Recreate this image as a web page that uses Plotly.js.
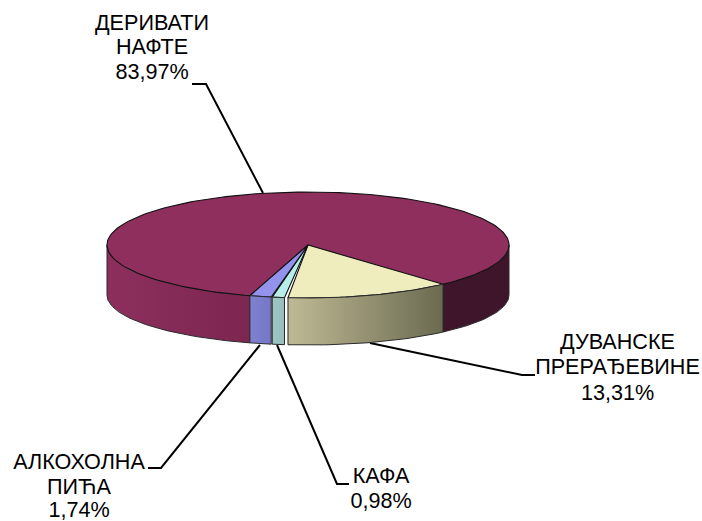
<!DOCTYPE html>
<html><head><meta charset="utf-8">
<script src="https://cdn.plot.ly/plotly-3.0.1.min.js"></script>
<style>html,body{margin:0;padding:0;background:#fff}#c{width:702px;height:521px}</style>
</head><body><div id="c"></div>
<script>
// Data
const categories = ['ДЕРИВАТИ НАФТЕ','ДУВАНСКЕ ПРЕРАЂЕВИНЕ','КАФА','АЛКОХОЛНА ПИЋА'];
const values = [83.97, 13.31, 0.98, 1.74];
const valueLabels = ['83,97%','13,31%','0,98%','1,74%'];
const topColors = ['#8e2f5d','#efedbd','#b6efea','#9393ee'];
const wallFrontColors = [['#8d2f5d','#7c2650'],['#bfba95','#6b6a50'],['#9cc6c4','#96bebd'],['#8080d0','#7777c8']];
const wallBackColor = '#3f152b';

// Projection of the pie (pixels on hidden axes)
const cx=308, cy=245, rx=201, ry=53, by=295, bry=50;
const startAngle=47.8, gaps=[0,0,1.0,0.3];
const rad=d=>d*Math.PI/180;
function arc(a0,a1,cyy,ryy){const n=Math.max(2,Math.ceil(Math.abs(a1-a0)/1.5));const xs=[],ys=[];
  for(let i=0;i<=n;i++){const t=rad(a0+(a1-a0)*i/n);xs.push(cx+rx*Math.cos(t));ys.push(cyy+ryy*Math.sin(t));}return [xs,ys];}
function topFace(a0,a1,col){const [x,y]=arc(a0,a1,cy,ry);
  return {type:'scatter',mode:'lines',x:[cx,...x,cx],y:[cy,...y,cy],fill:'toself',fillcolor:col,line:{color:'#111',width:1.1},hoverinfo:'skip'};}
function wall(a0,a1,cols){const [x1,y1]=arc(a0,a1,cy,ry);const [x2,y2]=arc(a1,a0,by,bry);
  const t={type:'scatter',mode:'lines',x:[...x1,...x2,x1[0]],y:[...y1,...y2,y1[0]],fill:'toself',line:{color:'#2a2a2a',width:1},hoverinfo:'skip'};
  if(Array.isArray(cols)) t.fillgradient={type:'horizontal',colorscale:[[0,cols[0]],[1,cols[1]]]}; else t.fillcolor=cols;
  return t;}

// Slice angles: clockwise from startAngle; order tobacco, coffee, alcohol, oil
const total=values.reduce((a,b)=>a+b,0);
const order=[1,2,3,0]; let ang=startAngle; const spans={};
order.forEach(i=>{ang+=gaps[i];const d=values[i]/total*360;spans[i]=[ang,ang+d];ang+=d;});

// Leader lines and labels
const leaders=[
  [[192,206,263],[84,84,193]],
  [[535,522,370],[375,375,343]],
  [[349,337,277],[484,484,345]],
  [[148,161,260],[468,468,345]]
];
const traces=[];
leaders.forEach(l=>traces.push({type:'scatter',mode:'lines',x:l[0],y:l[1],line:{color:'#000',width:2},hoverinfo:'skip'}));
// oil: back-right dark wall and front-left wall, then its top
traces.push(wall(0,startAngle,wallBackColor));
traces.push(wall(spans[0][0],180,[wallFrontColors[0][0],wallFrontColors[0][1]]));
traces.push(topFace(spans[0][0],spans[0][1],topColors[0]));
[1,2,3].forEach(i=>{
  traces.push(topFace(spans[i][0],spans[i][1],topColors[i]));
  traces.push(wall(spans[i][0],spans[i][1],[wallFrontColors[i][0],wallFrontColors[i][1]]));
});

const labelLines=[
  {x:152,ys:[25,49,74],t:['ДЕРИВАТИ','НАФТЕ',valueLabels[0]]},
  {x:617.5,ys:[344,369,395],t:['ДУВАНСКЕ','ПРЕРАЂЕВИНЕ',valueLabels[1]]},
  {x:381,ys:[478,503],t:['КАФА',valueLabels[2]]},
  {x:79,ys:[464,488.5,512],t:['АЛКОХОЛНА','ПИЋА',valueLabels[3]]}
];
labelLines.forEach(l=>traces.push({type:'scatter',mode:'text',x:l.t.map(()=>l.x),y:l.ys,text:l.t,textposition:'middle center',cliponaxis:false,hoverinfo:'skip',
  textfont:{family:'"Liberation Sans",Arial,sans-serif',size:21.6,color:'#000'}}));

Plotly.newPlot('c',traces,{
  width:702,height:521,margin:{l:0,r:0,t:0,b:0},paper_bgcolor:'#fff',plot_bgcolor:'#fff',showlegend:false,
  xaxis:{range:[0,702],visible:false,fixedrange:true},
  yaxis:{range:[521,0],visible:false,fixedrange:true}
},{displayModeBar:false,staticPlot:true});
</script></body></html>
